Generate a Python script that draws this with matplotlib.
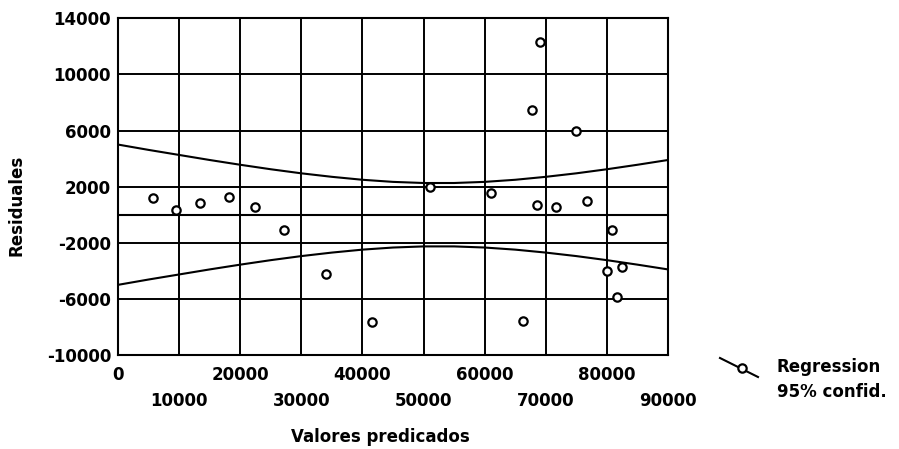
import matplotlib

matplotlib.use("Agg")
import matplotlib.pyplot as plt
from matplotlib.lines import Line2D

# predicted values vs residuals
predicted = [5750, 9500, 13400, 18200, 22400, 27200, 34100, 41600,
             51100, 61100, 66300, 67800, 68550, 69000, 71600, 75000,
             76800, 80100, 80900, 81700, 82400]
residuals = [1190, 310, 830, 1230, 520, -1090, -4230, -7680,
             1980, 1550, -7600, 7460, 690, 12310, 550, 5990,
             950, -3990, -1070, -5870, -3760]

# regression line of residuals (flat at zero)
reg_x = [0, 90000]
reg_y = [0, 0]

# 95% confidence band, read every 5000 along the x axis
band_x = [0, 5000, 10000, 15000, 20000, 25000, 30000, 35000, 40000, 45000,
          50000, 55000, 60000, 65000, 70000, 75000, 80000, 85000, 90000]
band_upper = [5000, 4620, 4260, 3900, 3560, 3240, 2950, 2700, 2490, 2340,
              2260, 2260, 2340, 2490, 2700, 2950, 3240, 3560, 3900]
band_lower = [-5000, -4620, -4260, -3900, -3560, -3240, -2950, -2700, -2490, -2340,
              -2260, -2260, -2340, -2490, -2700, -2950, -3240, -3560, -3900]

x_ticks_upper = [0, 20000, 40000, 60000, 80000]
x_ticks_lower = [10000, 30000, 50000, 70000, 90000]
y_ticks = [-10000, -6000, -2000, 2000, 6000, 10000, 14000]

plt.rcParams["font.family"] = ["DejaVu Sans"]
plt.rcParams["font.weight"] = "bold"

fig = plt.figure(figsize=(8.99, 4.49), dpi=100)
ax = fig.add_axes([0.1313, 0.2094, 0.6117, 0.7498])

ax.set_xlim(0, 90000)
ax.set_ylim(-10000, 14000)

ax.set_xticks(x_ticks_upper)
ax.set_xticks(x_ticks_lower, minor=True)
ax.set_xticklabels([str(v) for v in x_ticks_upper])
ax.set_xticklabels([str(v) for v in x_ticks_lower], minor=True)
ax.set_yticks(y_ticks)
ax.set_yticklabels([str(v) for v in y_ticks])

ax.tick_params(axis="x", which="major", length=0, pad=8, labelsize=12)
ax.tick_params(axis="x", which="minor", length=0, pad=27, labelsize=12)
ax.tick_params(axis="y", length=0, pad=5, labelsize=12)

ax.grid(True, which="both", axis="x", color="black", linewidth=1.4)
ax.grid(True, which="major", axis="y", color="black", linewidth=1.4)
ax.set_axisbelow(True)
for spine in ax.spines.values():
    spine.set_linewidth(1.5)

ax.plot(reg_x, reg_y, color="black", linewidth=1.5)
ax.plot(band_x, band_upper, color="black", linewidth=1.5)
ax.plot(band_x, band_lower, color="black", linewidth=1.5)
ax.plot(predicted, residuals, linestyle="none", marker="o", markersize=6,
        markerfacecolor="white", markeredgecolor="black", markeredgewidth=1.6,
        zorder=5)

fig.text(380 / 899, 1 - 437 / 449, "Valores predicados", ha="center", va="center",
         fontsize=12, fontweight="bold")
fig.text(17 / 899, 1 - 205 / 449, "Residuales", ha="center", va="center",
         rotation=90, fontsize=12, fontweight="bold")

# legend glyph: slanted line with a circle, text to its right
fig.add_artist(Line2D([720 / 899, 758 / 899], [1 - 358 / 449, 1 - 377 / 449],
                      transform=fig.transFigure, color="black", linewidth=1.5))
fig.add_artist(Line2D([742 / 899], [1 - 368 / 449], transform=fig.transFigure,
                      marker="o", markersize=6, markerfacecolor="white",
                      markeredgecolor="black", markeredgewidth=1.6))
fig.text(777 / 899, 1 - 367 / 449, "Regression", ha="left", va="center",
         fontsize=12, fontweight="bold")
fig.text(777 / 899, 1 - 392 / 449, "95% confid.", ha="left", va="center",
         fontsize=12, fontweight="bold")

fig.savefig("out.png", dpi=100)
